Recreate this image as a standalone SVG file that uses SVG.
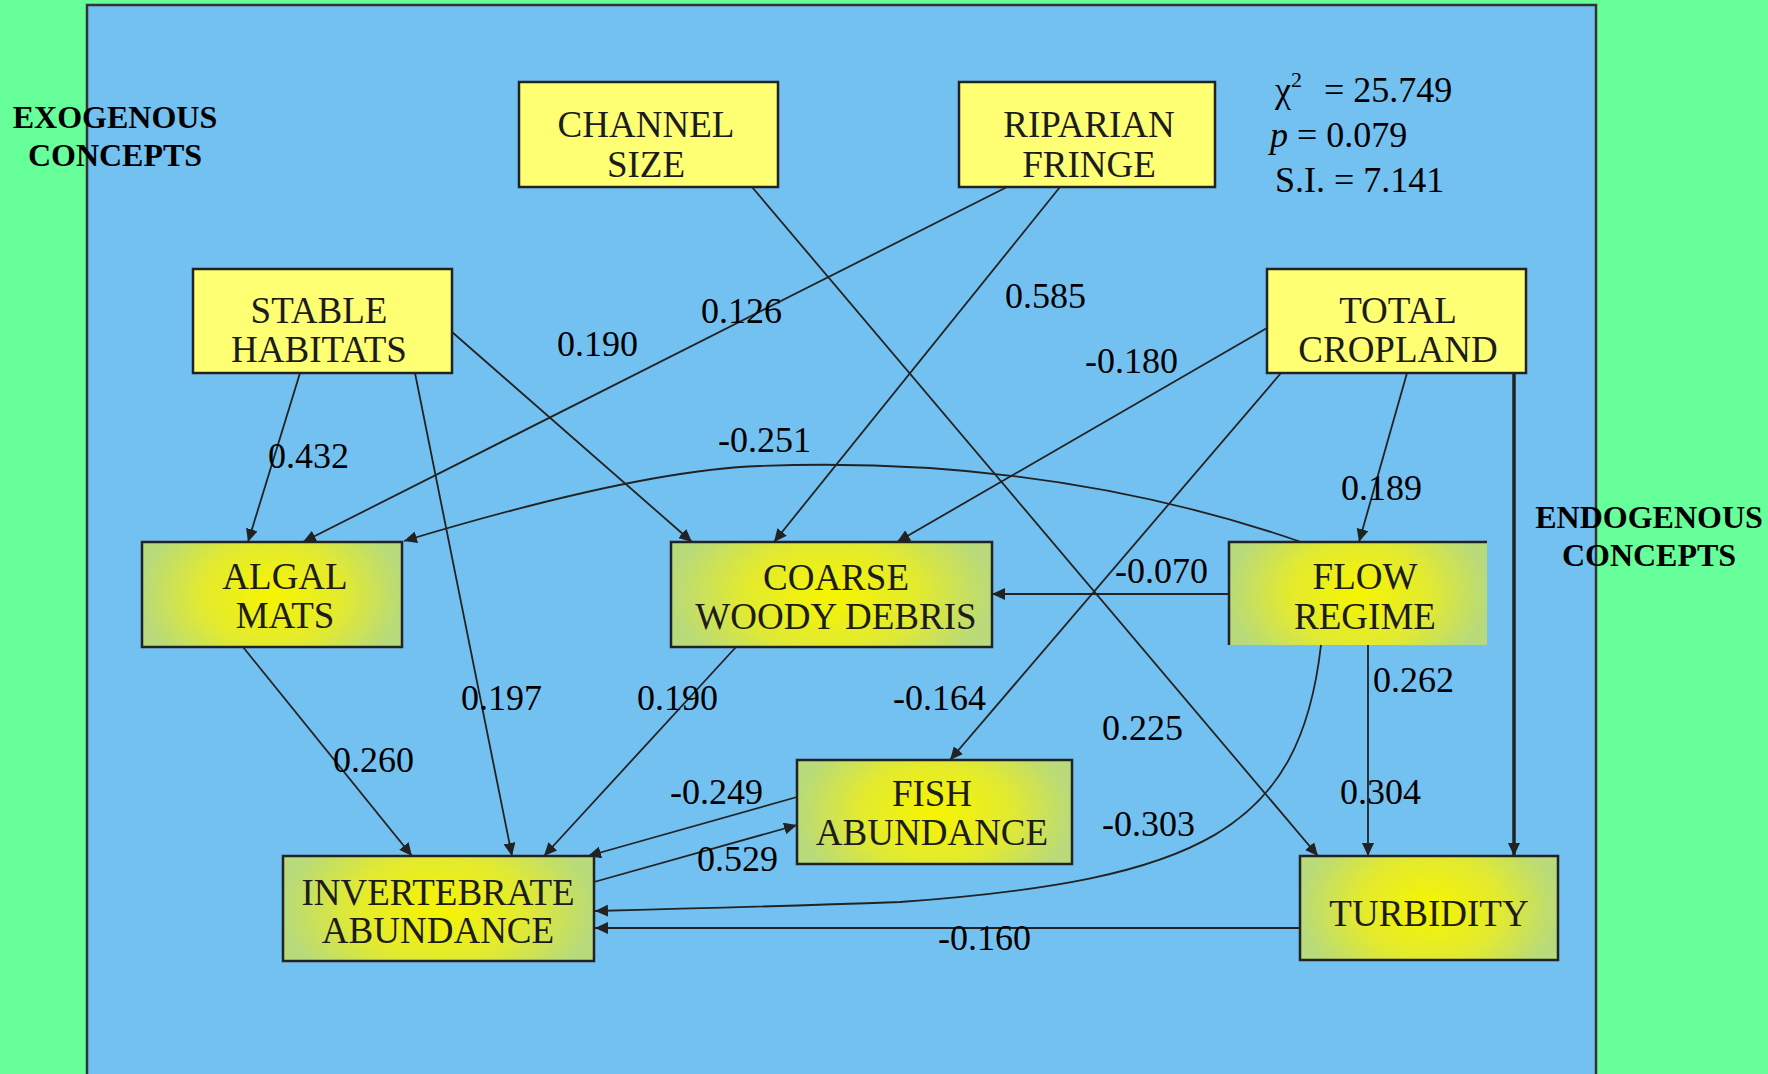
<svg xmlns="http://www.w3.org/2000/svg" width="1768" height="1074" viewBox="0 0 1768 1074">
<style>
.exo{fill:#FFFF73;stroke:#222;stroke-width:2.5}
.endo{fill:url(#g);stroke:#222;stroke-width:2.5}
.nt{font-family:"Liberation Serif","Times New Roman",serif;font-size:37px;fill:#1c1c1c;text-anchor:middle}
.lb{font-family:"Liberation Serif","Times New Roman",serif;font-size:36px;fill:#000}
.hd{font-family:"Liberation Serif","Times New Roman",serif;font-size:32px;font-weight:bold;fill:#000;text-anchor:middle}
.c{fill:none;stroke:#222;stroke-width:1.8;marker-end:url(#a)}
</style>
<defs>
<radialGradient id="g" cx="0.5" cy="0.5" r="0.5" gradientTransform="translate(0.5,0.5) scale(1,1.8) translate(-0.5,-0.5)">
<stop offset="0" stop-color="#F7F500"/>
<stop offset="0.55" stop-color="#E2EA30"/>
<stop offset="1" stop-color="#B8DA7A"/>
</radialGradient>
<marker id="a" markerUnits="userSpaceOnUse" markerWidth="14" markerHeight="12" refX="13" refY="6" orient="auto">
<path d="M0,0 L13,6 L0,12 z" fill="#222"/>
</marker>
</defs>
<rect x="0" y="0" width="1768" height="1074" fill="#66FF99"/>
<rect x="87" y="5" width="1509" height="1090" fill="#73C1F0" stroke="#333" stroke-width="2.5"/>

<g id="connectors">
<path class="c" d="M752,187 L1318,856"/>
<path class="c" d="M1007,187 L303,542"/>
<path class="c" d="M1060,187 L774,542"/>
<path class="c" d="M300,373 L248,542"/>
<path class="c" d="M415,373 L512,856"/>
<path class="c" d="M452,332 L692,542"/>
<path class="c" d="M1267,328 L897,542"/>
<path class="c" d="M1281,373 L950,760"/>
<path class="c" d="M1407,373 L1359,542"/>
<path class="c" style="stroke-width:3.5" d="M1514,373 L1514,856"/>
<path class="c" d="M1301,542 Q1050,455 760,466 Q640,470 404,541"/>
<path class="c" d="M1229,594 L992,594"/>
<path class="c" d="M1368,645 L1368,856"/>
<path class="c" d="M1321,645 C1300,830 1200,880 900,902 Q760,907 595,911"/>
<path class="c" d="M1300,928 L595,928"/>
<path class="c" d="M797,797 L588,856"/>
<path class="c" d="M594,882 L797,825"/>
<path class="c" d="M243,647 L412,856"/>
<path class="c" d="M736,647 L544,856"/>
</g>

<g id="channel-size"><rect class="exo" x="519" y="82" width="259" height="105"/><text class="nt" x="646" y="137">CHANNEL</text><text class="nt" x="646" y="177">SIZE</text></g>
<g id="riparian-fringe"><rect class="exo" x="959" y="82" width="256" height="105"/><text class="nt" x="1089" y="137">RIPARIAN</text><text class="nt" x="1089" y="177">FRINGE</text></g>
<g id="stable-habitats"><rect class="exo" x="193" y="269" width="259" height="104"/><text class="nt" x="319" y="323">STABLE</text><text class="nt" x="319" y="362">HABITATS</text></g>
<g id="total-cropland"><rect class="exo" x="1267" y="269" width="259" height="104"/><text class="nt" x="1398" y="323">TOTAL</text><text class="nt" x="1398" y="362">CROPLAND</text></g>
<g id="algal-mats"><rect class="endo" x="142" y="542" width="260" height="105"/><text class="nt" x="285" y="589">ALGAL</text><text class="nt" x="285" y="628">MATS</text></g>
<g id="coarse-woody-debris"><rect class="endo" x="671" y="542" width="321" height="105"/><text class="nt" x="836" y="590">COARSE</text><text class="nt" x="836" y="629">WOODY DEBRIS</text></g>
<g id="flow-regime"><rect x="1229" y="542" width="258" height="103" fill="url(#g)"/><path d="M1229,645 V542 H1487" fill="none" stroke="#222" stroke-width="2.5"/><text class="nt" x="1365" y="589">FLOW</text><text class="nt" x="1365" y="629">REGIME</text></g>
<g id="fish-abundance"><rect class="endo" x="797" y="760" width="275" height="104"/><text class="nt" x="932" y="806">FISH</text><text class="nt" x="932" y="845">ABUNDANCE</text></g>
<g id="invertebrate-abundance"><rect class="endo" x="283" y="856" width="311" height="105"/><text class="nt" x="438" y="905">INVERTEBRATE</text><text class="nt" x="438" y="943">ABUNDANCE</text></g>
<g id="turbidity"><rect class="endo" x="1300" y="856" width="258" height="104"/><text class="nt" x="1429" y="926">TURBIDITY</text></g>

<g id="edge-labels">
<text class="lb" x="557" y="356">0.190</text>
<text class="lb" x="701" y="323">0.126</text>
<text class="lb" x="1005" y="308">0.585</text>
<text class="lb" x="1085" y="373">-0.180</text>
<text class="lb" x="268" y="468">0.432</text>
<text class="lb" x="718" y="452">-0.251</text>
<text class="lb" x="1341" y="500">0.189</text>
<text class="lb" x="1115" y="583">-0.070</text>
<text class="lb" x="461" y="710">0.197</text>
<text class="lb" x="637" y="710">0.190</text>
<text class="lb" x="893" y="710">-0.164</text>
<text class="lb" x="1373" y="692">0.262</text>
<text class="lb" x="333" y="772">0.260</text>
<text class="lb" x="1102" y="740">0.225</text>
<text class="lb" x="1340" y="804">0.304</text>
<text class="lb" x="670" y="804">-0.249</text>
<text class="lb" x="697" y="871">0.529</text>
<text class="lb" x="1102" y="836">-0.303</text>
<text class="lb" x="938" y="950">-0.160</text>
</g>

<g id="stats">
<text class="lb" x="1275" y="102">χ<tspan font-size="22" dy="-15">2</tspan><tspan x="1324" dy="15">= 25.749</tspan></text>
<text class="lb" x="1270" y="147"><tspan font-style="italic">p</tspan> = 0.079</text>
<text class="lb" x="1275" y="192">S.I. = 7.141</text>
</g>

<g id="headings">
<text class="hd" x="115" y="128">EXOGENOUS</text>
<text class="hd" x="115" y="166">CONCEPTS</text>
<text class="hd" x="1649" y="528">ENDOGENOUS</text>
<text class="hd" x="1649" y="566">CONCEPTS</text>
</g>
</svg>
